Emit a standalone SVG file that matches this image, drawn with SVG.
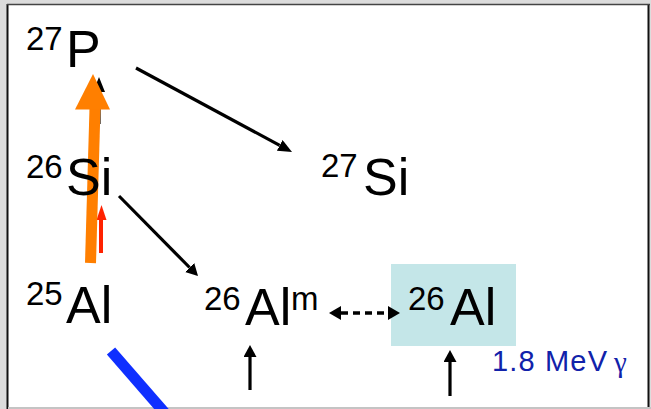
<svg xmlns="http://www.w3.org/2000/svg" width="651" height="409" viewBox="0 0 651 409">
  <style>
    .t { font-family: "Liberation Sans", Arial, sans-serif; fill: #000; }
    .big { font-size: 52px; }
    .sup { font-size: 33px; }
    .blk { stroke: #000; stroke-width: 3.2; fill: none; }
  </style>
  <defs>
    <marker id="ah" viewBox="0 0 14 12" refX="0" refY="6" markerWidth="14" markerHeight="12" markerUnits="userSpaceOnUse" orient="auto">
      <path d="M0,0 L14,6 L0,12 z" fill="#000"/>
    </marker>
    <marker id="ahs" viewBox="0 0 12 13" refX="0" refY="6.5" markerWidth="12" markerHeight="13" markerUnits="userSpaceOnUse" orient="auto">
      <path d="M0,0 L12,6.5 L0,13 z" fill="#000"/>
    </marker>
    <marker id="ahd" viewBox="0 0 12 14" refX="0" refY="7" markerWidth="12" markerHeight="14" markerUnits="userSpaceOnUse" orient="auto-start-reverse">
      <path d="M0,0 L12,7 L0,14 z" fill="#000"/>
    </marker>
  </defs>

  <!-- frame -->
  <rect x="0" y="0" width="651" height="409" fill="#dcdcdc"/>
  <rect x="8" y="5" width="640" height="402" fill="#fff"/>
  <line x1="7.5" y1="4" x2="7.5" y2="409" stroke="#111" stroke-width="2"/>
  <line x1="648.5" y1="4" x2="648.5" y2="409" stroke="#111" stroke-width="2"/>
  <line x1="7" y1="4.5" x2="650" y2="4.5" stroke="#444" stroke-width="1.5"/>
  <line x1="8" y1="408" x2="651" y2="408" stroke="#c4c4c4" stroke-width="2"/>

  <!-- highlight box -->
  <rect id="box26Al" x="391" y="264" width="125" height="82" fill="#c4e6e8"/>

  <!-- connectors -->
  <g id="connectors">
    <line class="blk" x1="136" y1="68" x2="279.7" y2="145.4" marker-end="url(#ah)"/>
    <line class="blk" x1="119" y1="196" x2="189.6" y2="267.5" marker-end="url(#ahs)"/>
    <line class="blk" x1="99" y1="124" x2="99" y2="92"/>
    <polygon points="99,77 105,92 93,92" fill="#000"/>
    <line x1="341" y1="313" x2="388" y2="313" stroke="#000" stroke-width="3.5" stroke-dasharray="7 5" marker-start="url(#ahd)" marker-end="url(#ahd)"/>
    <line class="blk" x1="250" y1="390" x2="250" y2="357" marker-end="url(#ahs)"/>
    <line class="blk" x1="450" y1="396" x2="450" y2="362" marker-end="url(#ahs)"/>
    <!-- red arrow -->
    <line x1="101" y1="253" x2="101" y2="219" stroke="#ff2200" stroke-width="4"/>
    <polygon points="101.5,205 106.5,220 96.5,220" fill="#ff2200"/>
    <!-- orange arrow -->
    <line x1="90.5" y1="263" x2="95" y2="108" stroke="#ff7f00" stroke-width="11"/>
    <polygon points="75,109.5 110,109.5 93,74" fill="#ff7f00"/>
    <!-- blue line -->
    <line x1="111" y1="351" x2="171" y2="420" stroke="#0f2fff" stroke-width="11"/>
  </g>

  <g id="n27P">
    <text class="t sup" x="26" y="50">27</text>
    <text class="t big" x="66" y="67">P</text>
  </g>
  <g id="n26Si">
    <text class="t sup" x="26" y="178">26</text>
    <text class="t big" x="66" y="195">Si</text>
  </g>
  <g id="n27Si">
    <text class="t sup" x="321" y="177">27</text>
    <text class="t big" x="363" y="195">Si</text>
  </g>
  <g id="n25Al">
    <text class="t sup" x="26" y="305">25</text>
    <text class="t big" x="66" y="323">Al</text>
  </g>
  <g id="n26Alm">
    <text class="t sup" x="204" y="310">26</text>
    <text class="t big" x="245" y="325">Al</text>
    <text class="t sup" x="291" y="310">m</text>
  </g>
  <g id="n26Al">
    <text class="t sup" x="408" y="310">26</text>
    <text class="t big" x="450" y="325">Al</text>
  </g>
  <g id="gammaLabel">
    <text x="492" y="371" font-family="Liberation Sans, Arial, sans-serif" font-size="29" fill="#1122aa" textLength="115" lengthAdjust="spacing">1.8 MeV</text>
    <text x="614" y="372" font-family="Liberation Serif, Times New Roman, serif" font-size="29" fill="#1122aa">γ</text>
  </g>
</svg>
